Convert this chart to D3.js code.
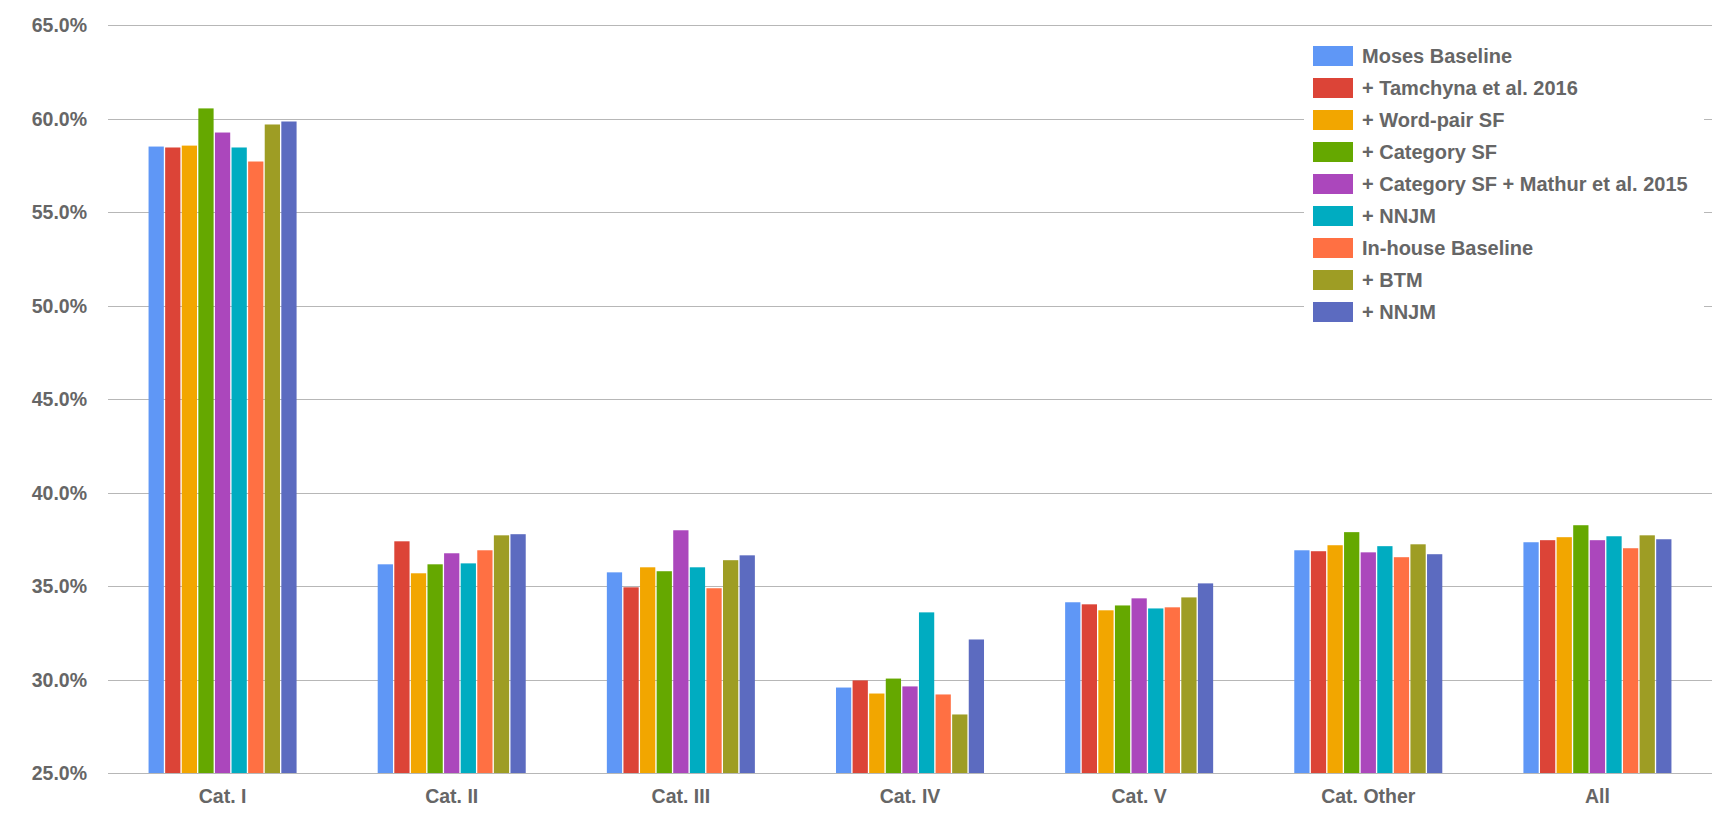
<!DOCTYPE html>
<html>
<head>
<meta charset="utf-8">
<script src="https://cdn.jsdelivr.net/npm/d3@7"></script>
<style>
  body { margin: 0; background: #fff; }
  text { font-family: "Liberation Sans", Arial, sans-serif; font-weight: bold; fill: #666; }
</style>
</head>
<body>
<script>
// categories along the x axis
const categories = ['Cat. I', 'Cat. II', 'Cat. III', 'Cat. IV', 'Cat. V', 'Cat. Other', 'All']

// series names (legend order)
const seriesNames = ['Moses Baseline', '+ Tamchyna et al. 2016', '+ Word-pair SF', '+ Category SF',
    '+ Category SF + Mathur et al. 2015', '+ NNJM', 'In-house Baseline', '+ BTM', '+ NNJM']

const seriesColors = ['#5f97f6', '#dc4437', '#f2a600', '#65a800', '#ab47bc', '#00acc1', '#ff7043', '#9e9d24', '#5c6bc0']

// values in percent, one array per category (same order as seriesNames)
const catI = [58.50, 58.45, 58.55, 60.54, 59.25, 58.45, 57.70, 59.68, 59.84]
const catII = [36.16, 37.39, 35.68, 36.16, 36.75, 36.21, 36.91, 37.71, 37.77]
const catIII = [35.73, 34.93, 36.00, 35.79, 37.98, 36.00, 34.88, 36.38, 36.64]
const catIV = [29.57, 29.95, 29.25, 30.05, 29.63, 33.59, 29.20, 28.13, 32.14]
const catV = [34.13, 34.02, 33.70, 33.96, 34.34, 33.80, 33.86, 34.39, 35.14]
const catOther = [36.91, 36.86, 37.18, 37.88, 36.80, 37.13, 36.54, 37.23, 36.70]
const catAll = [37.34, 37.45, 37.61, 38.25, 37.45, 37.66, 37.02, 37.71, 37.50]

const yTicks = [25, 30, 35, 40, 45, 50, 55, 60, 65]

const values = [catI, catII, catIII, catIV, catV, catOther, catAll]

const width = 1729
const height = 816
const margin = { top: 25, right: 17, bottom: 43, left: 108 }

var svg = d3.select('body')
    .append('svg')
    .attr('width', width)
    .attr('height', height)

var y = d3.scaleLinear()
    .domain([25, 65])
    .range([height - margin.bottom, margin.top])

// 148px wide group in a 229px band
var x0 = d3.scaleBand()
    .domain(categories)
    .range([margin.left, width - margin.right])
    .paddingInner(0.354)
    .paddingOuter(0.177)

var x1 = d3.scaleBand()
    .domain(d3.range(seriesNames.length))
    .range([0, x0.bandwidth()])
    .paddingInner(0.08)

// gridlines
svg.append('g')
    .selectAll('line')
    .data(yTicks)
    .enter()
    .append('line')
    .attr('x1', margin.left)
    .attr('x2', width - margin.right)
    .attr('y1', d => Math.round(y(d)) + 0.5)
    .attr('y2', d => Math.round(y(d)) + 0.5)
    .style('stroke', '#b7b7b7')
    .style('stroke-width', 1)

// y labels
svg.append('g')
    .selectAll('text')
    .data(yTicks)
    .enter()
    .append('text')
    .attr('x', 87)
    .attr('y', d => y(d) + 7)
    .attr('text-anchor', 'end')
    .style('font-size', '19.5px')
    .text(d => d3.format('.1f')(d) + '%')

// bars
var groups = svg.append('g')
    .selectAll('g')
    .data(values)
    .enter()
    .append('g')
    .attr('transform', (d, i) => `translate(${x0(categories[i])},0)`)

groups.selectAll('rect')
    .data(d => d)
    .enter()
    .append('rect')
    .attr('x', (d, i) => x1(i))
    .attr('width', x1.bandwidth())
    .attr('y', d => y(d))
    .attr('height', d => y(25) - y(d))
    .style('fill', (d, i) => seriesColors[i])

// x labels
svg.append('g')
    .selectAll('text')
    .data(categories)
    .enter()
    .append('text')
    .attr('x', d => x0(d) + x0.bandwidth() / 2)
    .attr('y', 803)
    .attr('text-anchor', 'middle')
    .style('font-size', '19.5px')
    .text(d => d)

// legend
var legend = svg.append('g')
    .attr('transform', 'translate(1304,34)')

legend.append('rect')
    .attr('width', 400)
    .attr('height', 300)
    .style('fill', '#fff')

var rows = legend.selectAll('.row')
    .data(seriesNames)
    .enter()
    .append('g')
    .attr('class', 'row')
    .attr('transform', (d, i) => `translate(9,${12 + i * 32})`)

rows.append('rect')
    .attr('width', 40)
    .attr('height', 20)
    .style('fill', (d, i) => seriesColors[i])

rows.append('text')
    .attr('x', 49)
    .attr('y', 17)
    .style('font-size', '20px')
    .text(d => d)
</script>
</body>
</html>
